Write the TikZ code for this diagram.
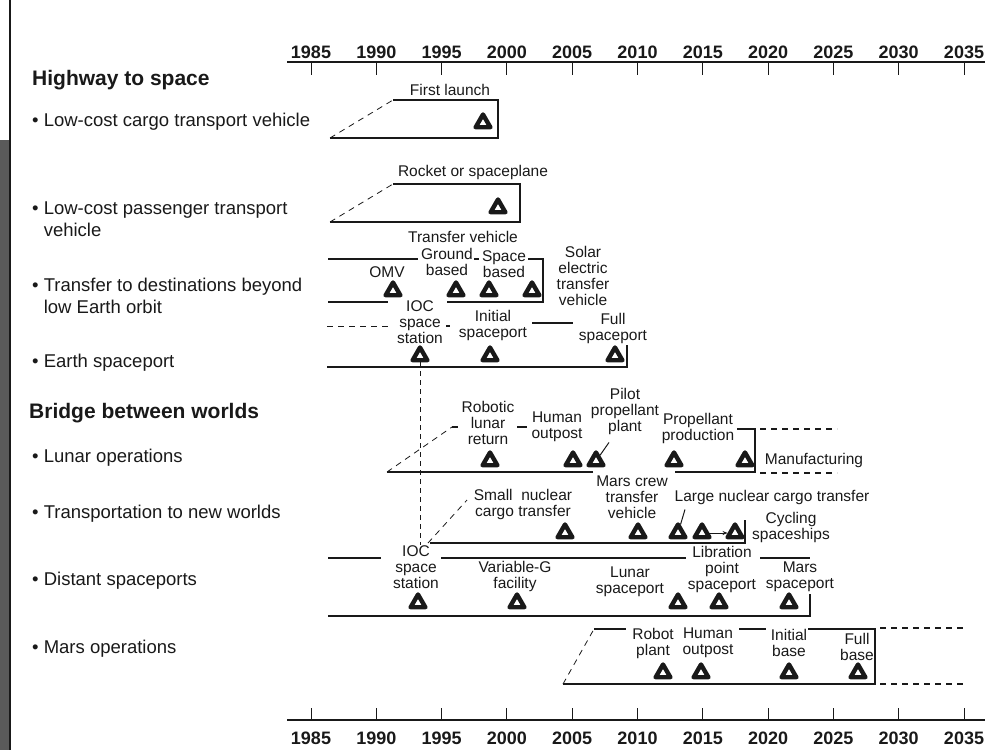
\documentclass[tikz,border=0pt]{standalone}
\usepackage{fontspec}
\setmainfont{Liberation Sans}
\usetikzlibrary{shapes.geometric,arrows.meta}
\definecolor{inkblack}{RGB}{25,25,25}
\definecolor{photogray}{RGB}{90,90,90}

\begin{document}
\begin{tikzpicture}[x=1pt, y=-1pt,
    milestone/.style={regular polygon, regular polygon sides=3, draw=inkblack, fill=white,
                      line width=4.4pt, line join=round, minimum size=17pt, inner sep=0pt},
    note/.style={font=\fontsize{15.5}{16}\selectfont, align=center, inner sep=0pt, text=inkblack},
    item/.style={font=\fontsize{18.5}{22}\selectfont, anchor=west, align=left, inner sep=0pt, text=inkblack},
    heading/.style={font=\fontsize{21}{22}\selectfont\bfseries, anchor=west, inner sep=0pt, text=inkblack},
    yearlabel/.style={font=\fontsize{18}{18}\selectfont\bfseries, inner sep=0pt, text=inkblack},
    frame/.style={line width=1.1pt, draw=inkblack},
    planned/.style={frame, dash pattern=on 6pt off 5pt},
    pointer/.style={line width=1pt, draw=inkblack}
]
    \useasboundingbox (0,0) rectangle (992,750);

    % Left edge of the page
    \fill[photogray] (0,140) rectangle (9,750);
    \draw[line width=1.5pt, inkblack] (10,0) -- (10,750);

    % Time axes, top and bottom
    \draw[frame] (287,62) -- (985,62);
    \draw[frame] (287,720) -- (985,720);
    \foreach \yr in {1985,1990,...,2035}{
        \pgfmathsetmacro\xx{311+(\yr-1985)*13.06}
        \draw[frame, line width=0.9pt] (\xx,62) -- (\xx,75);
        \node[yearlabel] (top\yr) at (\xx,52) {\yr};
        \draw[frame, line width=0.9pt] (\xx,708) -- (\xx,720);
        \node[yearlabel] (bot\yr) at (\xx,738) {\yr};
    }

    % Headings and programme items
    \node[heading] (highway) at (32,80) {Highway to space};
    \node[item] (cargo) at (32,122) {\textbullet\ Low-cost cargo transport vehicle};
    \node[item] (passenger) at (32,219) {\textbullet\ Low-cost passenger transport\\\phantom{\textbullet\ }vehicle};
    \node[item] (transfer) at (32,296) {\textbullet\ Transfer to destinations beyond\\\phantom{\textbullet\ }low Earth orbit};
    \node[item] (earthport) at (32,363) {\textbullet\ Earth spaceport};
    \node[heading] (bridge) at (29,413) {Bridge between worlds};
    \node[item] (lunarops) at (32,458) {\textbullet\ Lunar operations};
    \node[item] (newworlds) at (32,514) {\textbullet\ Transportation to new worlds};
    \node[item] (distant) at (32,581) {\textbullet\ Distant spaceports};
    \node[item] (marsops) at (32,649) {\textbullet\ Mars operations};

    % Row - cargo vehicle
    \node[note] (lFirst) at (450,90) {First launch};
    \node[milestone] (tCargo) at (483,123) {};
    \draw[planned, line width=0.8pt] (330,138) -- (393,100);
    \draw[frame] (393,100) -- (498,100) -- (498,138) -- (330,138);

    % Row - passenger vehicle
    \node[note] (lRocket) at (473,172) {Rocket or spaceplane};
    \node[milestone] (tPass) at (498,208) {};
    \draw[planned, line width=0.8pt] (330,222) -- (393,184);
    \draw[frame] (393,184) -- (520,184) -- (520,222) -- (330,222);

    % Row - transfer beyond low Earth orbit
    \node[note] (lTransfer) at (463,237) {Transfer vehicle};
    \node[note] (lOMV) at (387,272) {OMV};
    \node[note] (lGround) at (447,262) {Ground\\based};
    \node[note] (lSpace) at (504,264) {Space\\based};
    \node[note] (lSolar) at (583,276) {Solar\\electric\\transfer\\vehicle};
    \node[milestone] (tOMV) at (393,291) {};
    \node[milestone] (tGround) at (456,291) {};
    \node[milestone] (tSpace) at (489,291) {};
    \node[milestone] (tSolar) at (532,291) {};
    \draw[frame] (328,259) -- (418,259);
    \draw[frame] (474,259) -- (479,259);
    \draw[frame] (528,259) -- (543,259) -- (543,302) -- (447,302);
    \draw[frame] (328,302) -- (388,302);

    % Row - Earth spaceport
    \node[note] (lIOCa) at (420,322) {IOC\\space\\station};
    \node[note] (lInitial) at (493,325) {Initial\\spaceport};
    \node[note] (lFull) at (613,328) {Full\\spaceport};
    \node[milestone] (tIOCa) at (420,356) {};
    \node[milestone] (tInitial) at (490,356) {};
    \node[milestone] (tFull) at (615,356) {};
    \draw[planned, line width=0.8pt] (327,326) -- (390,326);
    \draw[frame] (446,326) -- (450,326);
    \draw[frame] (532,323) -- (573,323);
    \draw[frame] (627,345) -- (627,367) -- (327,367);

    % Row - lunar operations
    \node[note] (lRobotic) at (488,423) {Robotic\\lunar\\return};
    \node[note] (lHumanL) at (557,427) {Human\\outpost};
    \node[note] (lPilot) at (625,411) {Pilot\\propellant\\plant};
    \node[note] (lProp) at (698,428) {Propellant\\production};
    \node[note] (lManuf) at (814,460) {Manufacturing};
    \node[milestone] (tRobotic) at (490,461) {};
    \node[milestone] (tHumanL) at (573,461) {};
    \node[milestone] (tPilot) at (596,461) {};
    \node[milestone] (tProp) at (674,461) {};
    \node[milestone] (tManuf) at (745,461) {};
    \draw[planned, line width=0.8pt] (387,472) -- (452,427);
    \draw[frame] (452,427) -- (458,427);
    \draw[frame] (517,427) -- (527,427);
    \draw[frame] (737,429) -- (755,429) -- (755,472) -- (675,472);
    \draw[frame] (593,472) -- (387,472);
    \draw[planned] (760,429) -- (837,429);
    \draw[planned] (760,473) -- (837,473);
    \draw[pointer] ([shift={(-16pt,-8pt)}]lPilot.south) -- (tPilot);

    % Row - transportation to new worlds
    \node[note] (lSmall) at (523,504) {Small\ \ nuclear\\cargo transfer};
    \node[note] (lCrew) at (632,497) {Mars crew\\transfer\\vehicle};
    \node[note] (lLarge) at (772,497) {Large nuclear cargo transfer};
    \node[note] (lCycling) at (791,527) {Cycling\\spaceships};
    \node[milestone] (tSmall) at (565,533) {};
    \node[milestone] (tCrew) at (638,533) {};
    \node[milestone] (tLarge) at (678,533) {};
    \node[milestone] (tCycA) at (702,533) {};
    \node[milestone] (tCycB) at (735,533) {};
    \draw[planned, line width=0.8pt] (428,543) -- (467,500);
    \draw[frame] (430,543) -- (745,543) -- (745,520);
    \draw[pointer, -{Stealth[length=5pt,width=4pt]}] (tCycA) -- (tCycB);
    \draw[pointer] ([shift={(-87pt,-5pt)}]lLarge.south) -- (tLarge);

    % Row - distant spaceports
    \node[note] (lIOCb) at (416,567) {IOC\\space\\station};
    \node[note] (lVarG) at (515,576) {Variable-G\\facility};
    \node[note] (lLunarSp) at (630,582) {Lunar\\spaceport};
    \node[note] (lLibr) at (722,569) {Libration\\point\\spaceport};
    \node[note] (lMarsSp) at (800,577) {Mars\\spaceport};
    \node[milestone] (tIOCb) at (418,603) {};
    \node[milestone] (tVarG) at (517,603) {};
    \node[milestone] (tLunarSp) at (678,603) {};
    \node[milestone] (tLibr) at (719,603) {};
    \node[milestone] (tMarsSp) at (789,603) {};
    \draw[frame] (328,558) -- (381,558);
    \draw[frame] (441,558) -- (686,558);
    \draw[frame] (760,558) -- (810,558);
    \draw[frame] (810,594) -- (810,616) -- (328,616);

    % IOC station links both rows
    \draw[planned, line width=0.8pt, dash pattern=on 5pt off 4pt] (tIOCa.south) -- (tIOCa.south |- lIOCb.north);

    % Row - Mars operations
    \node[note] (lRobot) at (653,643) {Robot\\plant};
    \node[note] (lHumanM) at (708,643) {Human\\outpost};
    \node[note] (lInitialB) at (789,643) {Initial\\base};
    \node[note] (lFullB) at (857,647) {Full\\base};
    \node[milestone] (tRobot) at (663,673) {};
    \node[milestone] (tHumanM) at (701,673) {};
    \node[milestone] (tInitialB) at (789,673) {};
    \node[milestone] (tFullB) at (858,673) {};
    \draw[planned, line width=0.8pt] (563,684) -- (594,629);
    \draw[frame] (594,629) -- (626,629);
    \draw[frame] (739,629) -- (766,629);
    \draw[frame] (808,629) -- (875,629) -- (875,684) -- (563,684);
    \draw[planned] (880,628) -- (967,628);
    \draw[planned] (880,684) -- (967,684);
\end{tikzpicture}
\end{document}
